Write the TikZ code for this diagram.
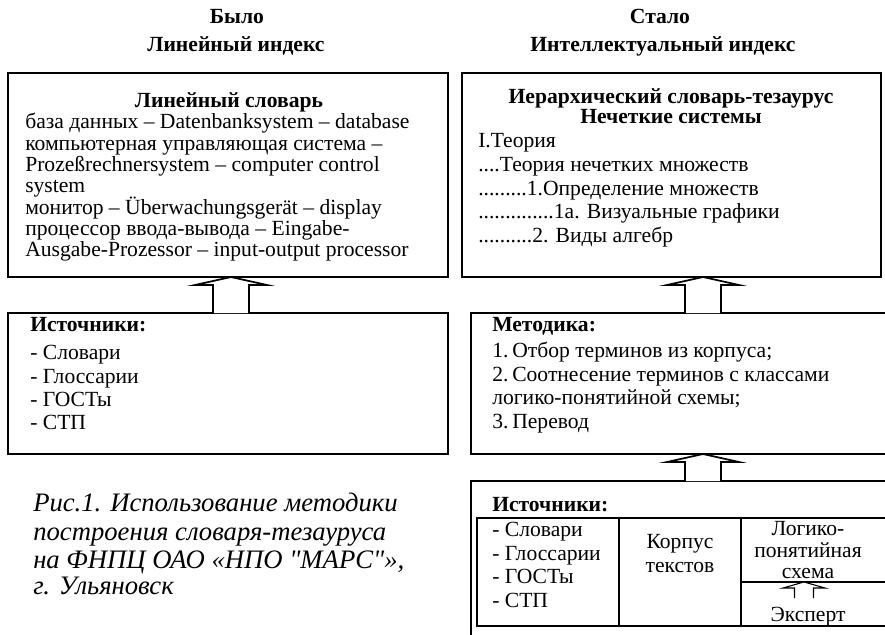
\documentclass[tikz,border=0pt]{standalone}
\usepackage{fontspec}
\setmainfont{Liberation Serif}[Ligatures=TeXOff]
\usetikzlibrary{calc,fit}
\newcommand\hollowup[5]{%
  \draw[hollow] ($(#1)+(-#3,0)$) -- ($(#2)+(-#3,#5)$) -- ($(#2)+(-#4,#5)$) -- (#2)
    -- ($(#2)+(#4,#5)$) -- ($(#2)+(#3,#5)$) -- ($(#1)+(#3,0)$);}
\begin{document}
\begin{tikzpicture}[x=0.75pt,y=-0.75pt,
  box/.style={draw, line width=1.3pt, inner sep=0pt},
  cell/.style={draw, line width=0.8pt},
  txt/.style={anchor=west, inner sep=0pt, text height=11.5pt, text depth=3pt, font=\fontsize{16.2}{17}\selectfont},
  ctxt/.style={txt, anchor=center},
  btxt/.style={txt, font=\fontsize{16.2}{17}\selectfont\bfseries},
  ttl/.style={btxt, anchor=center},
  captxt/.style={anchor=west, inner sep=0pt, text height=14pt, text depth=4pt, font=\fontsize{20}{22}\selectfont\itshape},
  hollow/.style={draw, line width=1.3pt, fill=white, line join=miter}]
\clip (0,0) rectangle (885,635);
\fill[white] (0,0) rectangle (885,635);

% headers
\node[ttl] (h1) at (237,18) {Было};
\node[ttl] (h2) at (236,46) {Линейный индекс};
\node[ttl] (h3) at (660,18) {Стало};
\node[ttl] (h4) at (663,46) {Интеллектуальный индекс};

% boxes
\coordinate (ltA) at (8,73);   \coordinate (ltB) at (448,277);
\coordinate (rtA) at (462,73); \coordinate (rtB) at (881,277);
\coordinate (lbA) at (8,313);  \coordinate (lbB) at (448,454);
\coordinate (rmA) at (471,313); \coordinate (rmB) at (910,454);
\coordinate (rbA) at (471,481); \coordinate (rbB) at (910,670);
\node[box, fit=(ltA)(ltB)] (lt) {};
\node[box, fit=(rtA)(rtB)] (rt) {};
\node[box, fit=(lbA)(lbB)] (lb) {};
\node[box, fit=(rmA)(rmB)] (rm) {};
\node[box, fit=(rbA)(rbB)] (rb) {};

% inner table of sources
\coordinate (c1A) at (477,518); \coordinate (c1B) at (619,626);
\coordinate (c2A) at (619,518); \coordinate (c2B) at (741,626);
\coordinate (c3A) at (741,518); \coordinate (c3B) at (910,582);
\coordinate (c4A) at (741,582); \coordinate (c4B) at (910,626);
\node[cell, fit=(c1A)(c1B), inner sep=0pt] (c1) {};
\node[cell, fit=(c2A)(c2B), inner sep=0pt] (c2) {};
\node[cell, fit=(c3A)(c3B), inner sep=0pt] (c3) {};
\node[cell, fit=(c4A)(c4B), inner sep=0pt] (c4) {};

% hollow arrows
\coordinate (a1b) at (231,313); \coordinate (a1t) at (231,277);
\coordinate (a2b) at (703,313); \coordinate (a2t) at (703,277);
\coordinate (a3b) at (703,481); \coordinate (a3t) at (703,454);
\coordinate (a4b) at (804,598); \coordinate (a4t) at (804,582);
\hollowup{a1b}{a1t}{18}{36}{8}
\hollowup{a2b}{a2t}{18}{36}{8}
\hollowup{a3b}{a3t}{18}{36}{8}
\draw[fill=white, line width=0.8pt] ($(a4b)+(-9.5,0)$) -- ($(a4t)+(-9.5,6)$) -- ($(a4t)+(-21,6)$) -- (a4t)
    -- ($(a4t)+(21,6)$) -- ($(a4t)+(9.5,6)$) -- ($(a4b)+(9.5,0)$);

% left top box text
\node[ttl] (lt0) at (229,102) {Линейный словарь};
\node[txt] (lt1) at (25,123) {база данных – Datenbanksystem – database};
\node[txt] (lt2) at (25,144.5) {компьютерная управляющая система –};
\node[txt] (lt3) at (25,166) {Prozeßrechnersystem – computer control};
\node[txt] (lt4) at (25,187) {system};
\node[txt] (lt5) at (25,208.5) {монитор – Überwachungsgerät – display};
\node[txt] (lt6) at (25,229.5) {процессор ввода-вывода – Eingabe-};
\node[txt] (lt7) at (25,251) {Ausgabe-Prozessor – input-output processor};

% right top box text
\node[ttl] (rt0) at (671,98) {Иерархический словарь-тезаурус};
\node[ttl] (rt1) at (671,118) {Нечеткие системы};
\node[txt] (rt2) at (478,142) {I.Теория};
\node[txt] (rt3) at (478,166) {....Теория нечетких множеств};
\node[txt] (rt4) at (478,189.5) {.........1.Определение множеств};
\node[txt] (rt5) at (478,213) {..............1а. Визуальные графики};
\node[txt] (rt6) at (478,237) {..........2. Виды алгебр};

% left bottom box text
\node[btxt] (lb0) at (30,326) {Источники:};
\node[txt] (lb1) at (30,354) {- Словари};
\node[txt] (lb2) at (30,378) {- Глоссарии};
\node[txt] (lb3) at (30,401) {- ГОСТы};
\node[txt] (lb4) at (30,424) {- СТП};

% methodology box text
\node[btxt] (rm0) at (492,326) {Методика:};
\node[txt] (rm1n) at (492,352) {1.};
\node[txt] (rm1) at (512,352) {Отбор терминов из корпуса;};
\node[txt] (rm2n) at (492,375.5) {2.};
\node[txt] (rm2) at (512,375.5) {Соотнесение терминов с классами};
\node[txt] (rm3) at (492,399) {логико-понятийной схемы;};
\node[txt] (rm4n) at (492,423) {3.};
\node[txt] (rm4) at (512,423) {Перевод};

% right bottom sources text
\node[btxt] (rb0) at (492,506) {Источники:};
\node[txt] (s1) at (492,531) {- Словари};
\node[txt] (s2) at (492,555) {- Глоссарии};
\node[txt] (s3) at (492,578) {- ГОСТы};
\node[txt] (s4) at (492,602) {- СТП};
\node[ctxt] (k1) at (680,543) {Корпус};
\node[ctxt] (k2) at (680,567) {текстов};
\node[ctxt] (l1) at (808,530) {Логико-};
\node[ctxt] (l2) at (808,552) {понятийная};
\node[ctxt] (l3) at (808,573) {схема};
\node[ctxt] (e1) at (808,616) {Эксперт};

% caption
\node[captxt] (f1) at (33,505) {Рис.1. Использование методики};
\node[captxt] (f2) at (33,534) {построения словаря-тезауруса};
\node[captxt] (f3) at (33,562) {на ФНПЦ ОАО «НПО "МАРС"»,};
\node[captxt] (f4) at (33,588) {г. Ульяновск};
\end{tikzpicture}
\end{document}
